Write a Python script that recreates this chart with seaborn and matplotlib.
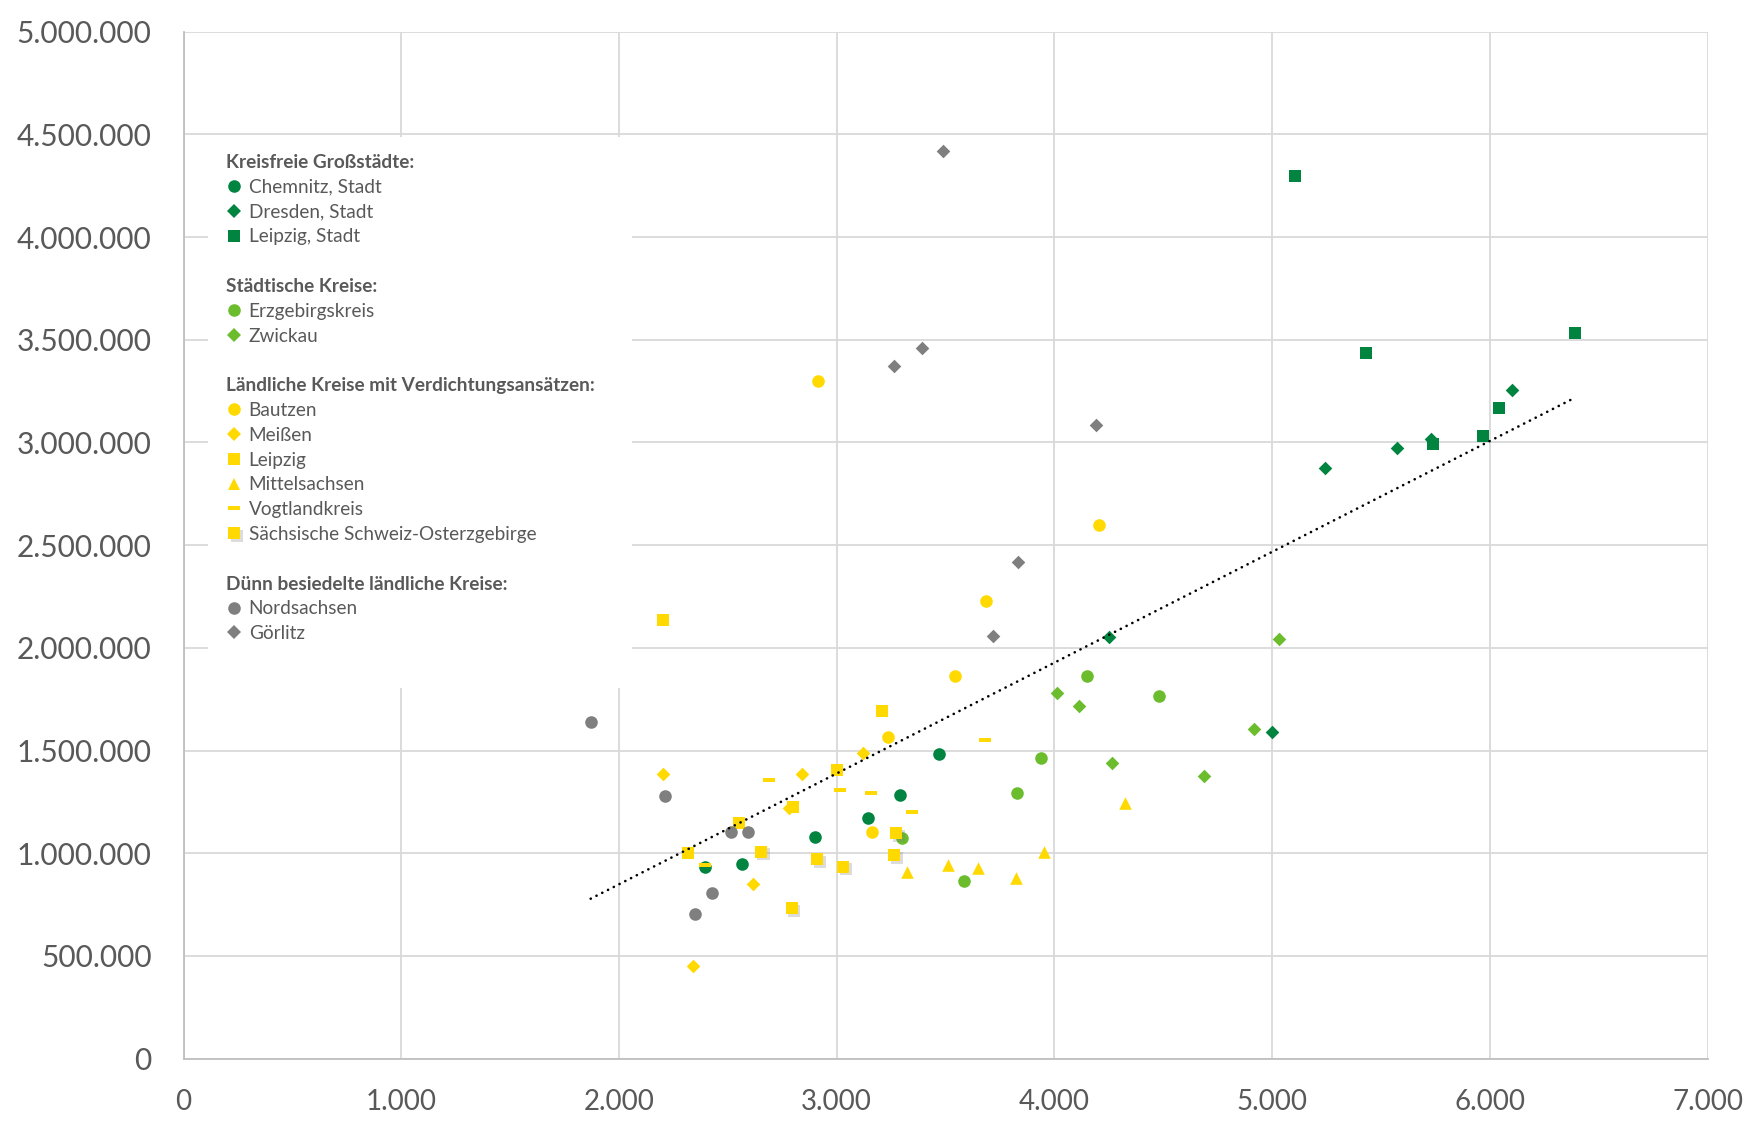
import numpy as np
import pandas as pd
import matplotlib.pyplot as plt
import matplotlib.patheffects as pe
import matplotlib.transforms as mtransforms
from matplotlib.lines import Line2D
from matplotlib.patches import Rectangle
from matplotlib.ticker import FuncFormatter, MultipleLocator
import seaborn as sns

# values (x, y) per Kreis
chemnitz_x = [2397, 2566, 2902, 3145, 3291, 3470]
chemnitz_y = [935000, 948000, 1078000, 1170000, 1283000, 1485000]
dresden_x = [4998, 4253, 5242, 5573, 5728, 6100]
dresden_y = [1591000, 2054000, 2877000, 2974000, 3016000, 3257000]
leipzig_stadt_x = [5106, 5430, 5737, 5968, 6040, 6389]
leipzig_stadt_y = [4296000, 3435000, 2994000, 3033000, 3169000, 3533000]
erzgebirge_x = [3300, 3585, 3828, 3938, 4148, 4479]
erzgebirge_y = [1073000, 865000, 1295000, 1463000, 1862000, 1767000]
zwickau_x = [4011, 4113, 4265, 4686, 4917, 5032]
zwickau_y = [1779000, 1719000, 1441000, 1378000, 1604000, 2043000]
bautzen_x = [2916, 3164, 3237, 3543, 3687, 4207]
bautzen_y = [3301000, 1102000, 1565000, 1865000, 2230000, 2599000]
meissen_x = [2204, 2341, 2614, 2782, 2842, 3119]
meissen_y = [1385000, 451000, 849000, 1219000, 1385000, 1487000]
leipzig_x = [2202, 2315, 2551, 2801, 3001, 3208]
leipzig_y = [2137000, 1003000, 1149000, 1227000, 1406000, 1694000]
mittelsachsen_x = [3324, 3513, 3648, 3824, 3952, 4324]
mittelsachsen_y = [907000, 943000, 927000, 878000, 1005000, 1243000]
vogtland_x = [2397, 2688, 3015, 3158, 3347, 3681]
vogtland_y = [943000, 1357000, 1308000, 1292000, 1200000, 1550000]
sso_x = [2651, 2793, 2911, 3030, 3263, 3272]
sso_y = [1008000, 732000, 972000, 935000, 992000, 1097000]
nordsachsen_x = [1870, 2210, 2348, 2426, 2513, 2591]
nordsachsen_y = [1641000, 1278000, 703000, 805000, 1102000, 1102000]
goerlitz_x = [3489, 3261, 3394, 4189, 3834, 3719]
goerlitz_y = [4421000, 3374000, 3461000, 3083000, 2420000, 2059000]

DGREEN = "#00843F"
LGREEN = "#6CBD2E"
YELLOW = "#FFD900"
GREY = "#7F7F7F"
TXT = "#595959"

dash = [(-1, -0.28), (1, -0.28), (1, 0.28), (-1, 0.28)]
shadow = [pe.SimplePatchShadow(offset=(2, -2), shadow_rgbFace="#777777", alpha=0.25), pe.Normal()]

# (label, x, y, marker, color, size, effects)
series = [
    ("Chemnitz, Stadt", chemnitz_x, chemnitz_y, "o", DGREEN, 82, None),
    ("Dresden, Stadt", dresden_x, dresden_y, "D", DGREEN, 48, None),
    ("Leipzig, Stadt", leipzig_stadt_x, leipzig_stadt_y, "s", DGREEN, 76, None),
    ("Erzgebirgskreis", erzgebirge_x, erzgebirge_y, "o", LGREEN, 82, None),
    ("Zwickau", zwickau_x, zwickau_y, "D", LGREEN, 48, None),
    ("Bautzen", bautzen_x, bautzen_y, "o", YELLOW, 82, None),
    ("Meißen", meissen_x, meissen_y, "D", YELLOW, 48, None),
    ("Leipzig", leipzig_x, leipzig_y, "s", YELLOW, 76, None),
    ("Mittelsachsen", mittelsachsen_x, mittelsachsen_y, "^", YELLOW, 82, None),
    ("Vogtlandkreis", vogtland_x, vogtland_y, dash, YELLOW, 82, None),
    ("Sächsische Schweiz-Osterzgebirge", sso_x, sso_y, "s", YELLOW, 76, shadow),
    ("Nordsachsen", nordsachsen_x, nordsachsen_y, "o", GREY, 82, None),
    ("Görlitz", goerlitz_x, goerlitz_y, "D", GREY, 48, None),
]

groups = [
    ("Kreisfreie Großstädte:", 0, 3),
    ("Städtische Kreise:", 3, 5),
    ("Ländliche Kreise mit Verdichtungsansätzen:", 5, 11),
    ("Dünn besiedelte ländliche Kreise:", 11, 13),
]

df = pd.concat([pd.DataFrame({"x": s[1], "y": s[2], "kreis": s[0]}) for s in series],
               ignore_index=True)

sns.set_theme(style="whitegrid")
plt.rcParams["font.family"] = ["Lato", "DejaVu Sans"]

fig = plt.figure(figsize=(17.6, 11.37), dpi=100)
ax = fig.add_axes([0.1043, 0.0689, 0.8659, 0.9032])
ax.set_axisbelow(True)

for label, xs, ys, marker, color, size, eff in series:
    sns.scatterplot(x=xs, y=ys, marker=marker, color=color, s=size, linewidth=0,
                    ax=ax, zorder=3, legend=False, path_effects=eff)

# trend line over all Kreise
sns.regplot(data=df, x="x", y="y", scatter=False, ci=None, truncate=True, ax=ax,
            line_kws=dict(color="black", lw=1.9, ls=(0, (0.05, 2.4)),
                          dash_capstyle="round", zorder=4))

ax.set_xlim(0, 7000)
ax.set_ylim(0, 5000000)
ax.xaxis.set_major_locator(MultipleLocator(1000))
ax.yaxis.set_major_locator(MultipleLocator(500000))
fmt = FuncFormatter(lambda v, p: f"{v:,.0f}".replace(",", "."))
ax.xaxis.set_major_formatter(fmt)
ax.yaxis.set_major_formatter(fmt)
ax.set_xlabel("")
ax.set_ylabel("")
ax.grid(True, color="#D9D9D9", lw=1.3)
ax.tick_params(axis="both", length=0, labelcolor=TXT)
ax.tick_params(axis="x", pad=22, labelsize=20)
ax.tick_params(axis="y", pad=23, labelsize=21.5)
for side in ["top", "right"]:
    ax.spines[side].set_visible(False)
for side in ["left", "bottom"]:
    ax.spines[side].set_color("#BFBFBF")
    ax.spines[side].set_linewidth(1.3)

# white legend area covering the grid
ax.add_patch(Rectangle((0.016, 0.361), 0.278, 0.536, transform=ax.transAxes,
                       facecolor="white", edgecolor="none", zorder=1))

handles, labels, headers = [], [], []
blank = Line2D([], [], linestyle="none")
for gi, (title, a, b) in enumerate(groups):
    if gi > 0:
        handles.append(blank)
        labels.append(" ")
    headers.append(len(labels))
    handles.append(blank)
    labels.append(title)
    for label, xs, ys, marker, color, size, eff in series[a:b]:
        handles.append(Line2D([], [], linestyle="none", marker=marker,
                              markersize=np.sqrt(size),
                              markerfacecolor=color, markeredgewidth=0,
                              path_effects=eff))
        labels.append(label)

leg = ax.legend(handles, labels, loc="upper left", bbox_to_anchor=(0.027, 0.881),
                borderaxespad=0, borderpad=0, frameon=False, fontsize=13.7,
                handlelength=1.0, handletextpad=0.26, labelspacing=0.41,
                labelcolor=TXT)
leg.set_zorder(5)
for i, t in enumerate(leg.get_texts()):
    if i in headers:
        t.set_fontweight("bold")
        t.set_transform(t.get_transform() + mtransforms.Affine2D().translate(-23, 0))

fig.savefig("out.png", dpi=100)
